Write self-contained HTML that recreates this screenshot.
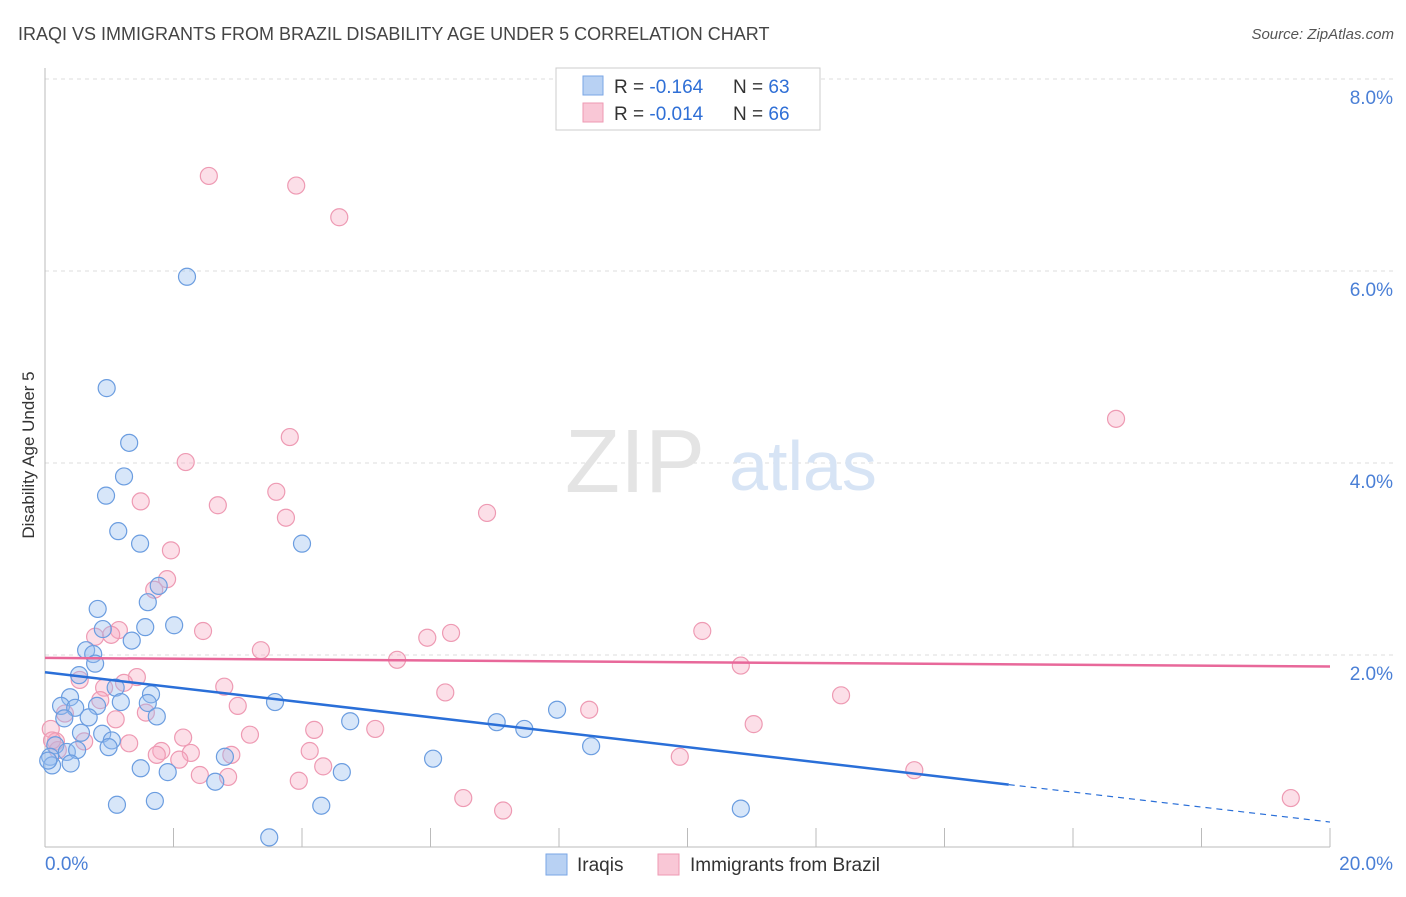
<!DOCTYPE html>
<html><head><meta charset="utf-8"><style>
body{margin:0;background:#fff;font-family:"Liberation Sans",sans-serif}
svg text{font-family:"Liberation Sans",sans-serif}
</style></head><body>
<svg id="chart" width="1406" height="892" xmlns="http://www.w3.org/2000/svg">
<text x="18" y="40" font-size="18" fill="#444">IRAQI VS IMMIGRANTS FROM BRAZIL DISABILITY AGE UNDER 5 CORRELATION CHART</text>
<text x="1394" y="39" font-size="15" fill="#555" font-style="italic" text-anchor="end">Source: ZipAtlas.com</text>
<text transform="translate(34,455) rotate(-90)" font-size="17" fill="#333" text-anchor="middle">Disability Age Under 5</text>
<g id="grid"></g>
<g id="axes"></g>
<text x="635" y="492" font-size="90" fill="#e4e4e4" font-family="Liberation Serif" text-anchor="middle">ZIP</text>
<text x="803" y="490" font-size="70" fill="#d7e4f5" text-anchor="middle">atlas</text>
<g id="pts"></g>
<g id="trends"></g>
<g>
<rect x="556" y="68" width="264" height="62" fill="#fff" stroke="#ccc"/>
<rect x="583" y="76" width="20" height="19" fill="#b8d1f3" stroke="#7aa6e6"/>
<rect x="583" y="103" width="20" height="19" fill="#f9c7d6" stroke="#ee9ab3"/>
<text x="614" y="93" font-size="19" fill="#333">R = <tspan fill="#2f6fd6">-0.164</tspan></text>
<text x="733" y="93" font-size="19" fill="#333">N = <tspan fill="#2f6fd6">63</tspan></text>
<text x="614" y="120" font-size="19" fill="#333">R = <tspan fill="#2f6fd6">-0.014</tspan></text>
<text x="733" y="120" font-size="19" fill="#333">N = <tspan fill="#2f6fd6">66</tspan></text>
</g>
<g>
<rect x="546" y="854" width="21" height="21" fill="#b8d1f3" stroke="#7aa6e6"/>
<text x="577" y="871" font-size="19" fill="#333">Iraqis</text>
<rect x="658" y="854" width="21" height="21" fill="#f9c7d6" stroke="#ee9ab3"/>
<text x="690" y="871" font-size="19" fill="#333">Immigrants from Brazil</text>
</g>
</svg>
<script>
const xTicks=[0,20];
const yTicks=[2,4,6,8];
const blueX=[2.21,0.96,1.31,1.23,0.95,1.14,1.48,4.0,1.77,1.6,0.82,2.01,1.56,0.9,1.35,0.64,0.75,0.78,0.53,1.1,0.39,1.65,3.58,0.25,0.47,0.81,1.18,1.6,0.3,0.68,1.74,4.75,7.03,7.97,7.46,0.56,0.89,1.04,0.99,8.5,0.16,0.34,0.5,0.08,0.11,0.4,2.8,6.04,1.49,1.91,4.62,2.65,1.12,1.71,4.3,10.83,3.49,0.05];
const blueY=[5.94,4.78,4.21,3.86,3.66,3.29,3.16,3.16,2.72,2.55,2.48,2.31,2.29,2.27,2.15,2.05,2.01,1.91,1.79,1.66,1.56,1.59,1.51,1.47,1.45,1.47,1.51,1.5,1.34,1.35,1.36,1.31,1.3,1.43,1.23,1.19,1.18,1.11,1.04,1.05,1.06,0.99,1.01,0.94,0.85,0.87,0.94,0.92,0.82,0.78,0.78,0.68,0.44,0.48,0.43,0.4,0.1,0.9];
const pinkX=[2.55,3.91,4.58,16.67,3.81,2.19,3.6,1.49,2.69,6.88,3.75,1.96,1.9,1.7,1.15,2.46,10.23,6.32,5.95,0.78,1.03,3.36,5.48,10.83,0.54,1.43,1.23,0.92,2.79,6.23,12.39,0.86,3.0,8.47,1.57,0.31,1.1,11.03,4.19,5.14,0.09,3.19,2.15,0.17,0.61,1.31,1.81,4.12,0.2,2.27,2.9,1.74,9.88,2.09,4.33,2.41,2.85,3.95,13.53,6.51,7.13,19.39,0.11];
const pinkY=[6.99,6.89,6.56,4.46,4.27,4.01,3.7,3.6,3.56,3.48,3.43,3.09,2.79,2.68,2.26,2.25,2.25,2.23,2.18,2.19,2.21,2.05,1.95,1.89,1.74,1.77,1.71,1.66,1.67,1.61,1.58,1.53,1.47,1.43,1.4,1.39,1.33,1.28,1.22,1.23,1.23,1.17,1.14,1.1,1.1,1.08,1.0,1.0,1.01,0.98,0.96,0.96,0.94,0.91,0.84,0.75,0.73,0.69,0.8,0.51,0.38,0.51,1.11];
const blueTrend=[1.82,0.26];
const pinkTrend=[1.97,1.88];
const NS='http://www.w3.org/2000/svg';
const sx=v=>45+v*64.25, sy=v=>847-v*96;
function mk(tag,attrs,parent){const e=document.createElementNS(NS,tag);for(const k in attrs)e.setAttribute(k,attrs[k]);parent.appendChild(e);return e;}
const grid=document.getElementById('grid'),axes=document.getElementById('axes'),pts=document.getElementById('pts'),tr=document.getElementById('trends');
yTicks.forEach(t=>{
 const l=mk('line',{x1:45,x2:1394,y1:sy(t),y2:sy(t),stroke:'#ddd','stroke-dasharray':'4,4'},grid);
 
 
 const tx=mk('text',{x:1393,y:sy(t)+25,'font-size':19,fill:'#4a7fd6','text-anchor':'end'},grid);
 tx.textContent=t.toFixed(1)+'%';
 
 
});
mk('line',{x1:45,x2:45,y1:68,y2:847,stroke:'#bbb'},axes);
mk('line',{x1:45,x2:1330,y1:847,y2:847,stroke:'#bbb'},axes);
for(let i=0;i<=10;i++){mk('line',{x1:sx(i*2),x2:sx(i*2),y1:828,y2:847,stroke:'#bbb'},axes);}
xTicks.forEach((t,i)=>{
 const tx=mk('text',{x:i?1393:45,y:870,'font-size':19,fill:'#4a7fd6','text-anchor':i?'end':'start'},axes);
 tx.textContent=t.toFixed(1)+'%';
 
 
});
pinkX.forEach((x,i)=>{
 const c=mk('circle',{cx:sx(x),cy:sy(pinkY[i]),r:8.5,fill:'rgba(246,170,195,0.38)',stroke:'#ee9ab3','stroke-width':1.2},pts);
 
 
});
blueX.forEach((x,i)=>{
 const c=mk('circle',{cx:sx(x),cy:sy(blueY[i]),r:8.5,fill:'rgba(150,190,240,0.38)',stroke:'#6b9de0','stroke-width':1.2},pts);
 
 
});
const bAt=x=>blueTrend[0]+(blueTrend[1]-blueTrend[0])*x/20;
let l1=mk('line',{x1:sx(0),y1:sy(bAt(0)),x2:sx(15),y2:sy(bAt(15)),stroke:'#2a6fd8','stroke-width':2.5},tr);


let l2=mk('line',{x1:sx(15),y1:sy(bAt(15)),x2:sx(20),y2:sy(bAt(20)),stroke:'#2a6fd8','stroke-width':1.2,'stroke-dasharray':'6,5'},tr);


let l3=mk('line',{x1:sx(0),y1:sy(pinkTrend[0]),x2:sx(20),y2:sy(pinkTrend[1]),stroke:'#e8689a','stroke-width':2.5},tr);


</script>
</body></html>
